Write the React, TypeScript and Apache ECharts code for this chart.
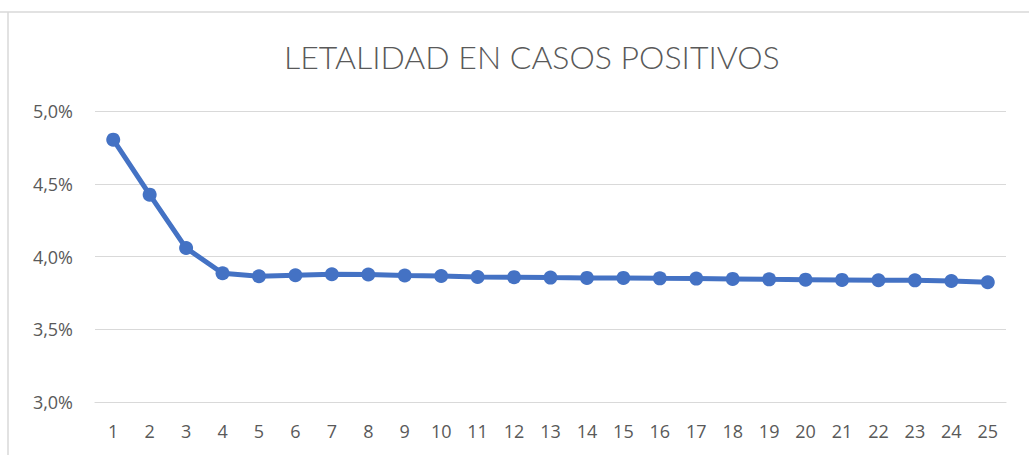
import React, { useEffect, useRef } from "react";
import * as echarts from "echarts";

const titleText = "LETALIDAD EN CASOS POSITIVOS";
const categories = [
  "1", "2", "3", "4", "5", "6", "7", "8", "9", "10", "11", "12", "13",
  "14", "15", "16", "17", "18", "19", "20", "21", "22", "23", "24", "25",
];
// lethality in percent
const lethality = [
  4.803, 4.425, 4.058, 3.885, 3.864, 3.871, 3.878, 3.876, 3.869, 3.866,
  3.859, 3.858, 3.855, 3.853, 3.853, 3.85, 3.848, 3.846, 3.843, 3.841,
  3.839, 3.837, 3.836, 3.832, 3.823,
];
const yMin = 3.0;
const yMax = 5.0;
const yStep = 0.5;

export default function App() {
  const ref = useRef<HTMLDivElement>(null);
  useEffect(() => {
    if (!ref.current) return;
    const chart = echarts.init(ref.current, undefined, { renderer: "svg" });
    chart.setOption({
      animation: false,
      backgroundColor: "#ffffff",
      title: {
        text: titleText,
        left: 279,
        top: 35,
        textStyle: {
          fontFamily: "Lato",
          fontSize: 32,
          fontWeight: 300,
          color: "#595959",
        },
      },
      graphic: [
        {
          type: "line",
          shape: { x1: 0, y1: 12, x2: 1029, y2: 12 },
          style: { stroke: "#d9d9d9", lineWidth: 1.5 },
        },
        {
          type: "line",
          shape: { x1: 8, y1: 12, x2: 8, y2: 455 },
          style: { stroke: "#d9d9d9", lineWidth: 1.5 },
        },
      ],
      grid: { left: 95, right: 23, top: 111, bottom: 53, containLabel: false },
      xAxis: {
        type: "category",
        data: categories,
        boundaryGap: true,
        axisLine: { show: true, lineStyle: { color: "#d9d9d9", width: 1.2 } },
        axisTick: { show: false },
        axisLabel: {
          color: "#595959",
          fontFamily: "Open Sans",
          fontSize: 18,
          margin: 20,
          interval: 0,
        },
      },
      yAxis: {
        type: "value",
        min: yMin,
        max: yMax,
        interval: yStep,
        axisLine: { show: false },
        axisTick: { show: false },
        splitLine: { lineStyle: { color: "#d9d9d9", width: 1.2 } },
        axisLabel: {
          color: "#595959",
          fontFamily: "Open Sans",
          fontSize: 18,
          margin: 22,
          formatter: (v: number) => v.toFixed(1).replace(".", ",") + "%",
        },
      },
      series: [
        {
          type: "line",
          data: lethality,
          symbol: "circle",
          symbolSize: 14,
          itemStyle: { color: "#4472C4" },
          lineStyle: { color: "#4472C4", width: 5 },
        },
      ],
    });
    return () => chart.dispose();
  }, []);
  return (
    <div
      ref={ref}
      style={{ position: "fixed", left: 0, top: 0, width: 1029, height: 455 }}
    />
  );
}
